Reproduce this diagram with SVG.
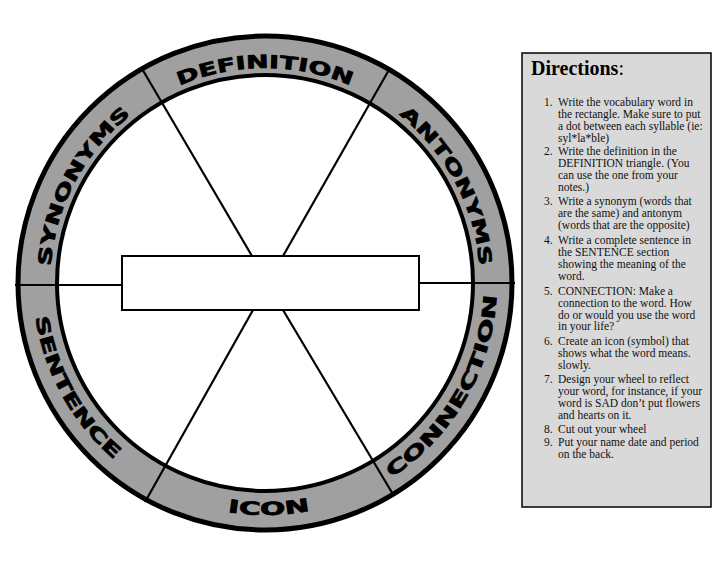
<svg xmlns="http://www.w3.org/2000/svg" width="728" height="563" viewBox="0 0 728 563">
<style>
.ring{fill:#a0a0a0;stroke:none}
.circ{fill:none;stroke:#000}
.spoke{stroke:#000;stroke-width:2.2;fill:none;stroke-linecap:butt}
.lbl{font-family:"DejaVu Sans",sans-serif;font-weight:bold;font-size:18px;fill:#000;stroke:#000;stroke-width:0.7}
.dir{font-family:"Liberation Serif","Times New Roman",serif;font-size:11.5px;fill:#111}
.head{font-family:"Liberation Serif","Times New Roman",serif;font-size:20px;fill:#000}
</style>
<defs>
<path id="pDef" d="M179.3,85.8 A215,215 0 0 1 350.7,85.8"/>
<path id="pSyn" d="M50.7,266.1 A215,215 0 0 1 131.2,114.7"/>
<path id="pAnt" d="M398.8,114.7 A215,215 0 0 1 479.3,266.1"/>
<path id="pSen" d="M35.5,317.3 A232,232 0 0 0 114.3,459.4"/>
<path id="pIcon" d="M227.5,512 A232,232 0 0 0 310.5,510.5"/>
<path id="pCon" d="M391.4,477.6 A232,232 0 0 0 496.7,295.1"/>
</defs>
<rect width="728" height="563" fill="#fff"/>
<g id="wheel">
<circle class="ring" cx="265" cy="283" r="247"/>
<circle cx="265" cy="283" r="208" fill="#fff"/>
</g>
<g id="connectors">
<line class="spoke" x1="252" y1="256" x2="141" y2="67"/>
<line class="spoke" x1="283" y1="256" x2="390" y2="68"/>
<line class="spoke" x1="253" y1="310" x2="145" y2="502"/>
<line class="spoke" x1="283" y1="310" x2="394" y2="496"/>
<line class="spoke" x1="15" y1="285" x2="122" y2="285"/>
<line class="spoke" x1="419" y1="283" x2="515" y2="283"/>
</g>
<g id="wheel-rims">
<circle class="circ" cx="265" cy="283" r="247" stroke-width="5"/>
<circle class="circ" cx="265" cy="283" r="208" stroke-width="4"/>
</g>
<g id="word-box">
<rect x="122" y="256" width="297" height="54" fill="#fff" stroke="#000" stroke-width="2"/>
</g>
<g id="definition"><text class="lbl"><textPath href="#pDef" textLength="176" lengthAdjust="spacingAndGlyphs">DEFINITION</textPath></text></g>
<g id="synonyms"><text class="lbl"><textPath href="#pSyn" textLength="176" lengthAdjust="spacingAndGlyphs">SYNONYMS</textPath></text></g>
<g id="antonyms"><text class="lbl"><textPath href="#pAnt" textLength="176" lengthAdjust="spacingAndGlyphs">ANTONYMS</textPath></text></g>
<g id="sentence"><text class="lbl"><textPath href="#pSen" textLength="166" lengthAdjust="spacingAndGlyphs">SENTENCE</textPath></text></g>
<g id="icon"><text class="lbl"><textPath href="#pIcon" textLength="83" lengthAdjust="spacingAndGlyphs">ICON</textPath></text></g>
<g id="connection"><text class="lbl"><textPath href="#pCon" textLength="218" lengthAdjust="spacingAndGlyphs">CONNECTION</textPath></text></g>
<g id="directions">
<rect x="522" y="53" width="189" height="454" fill="#d9d9d9" stroke="#000" stroke-width="1.5"/>
<text class="head" x="531" y="75"><tspan font-weight="bold">Directions</tspan>:</text>
<g class="dir">
<text x="544" y="105.5">1.</text>
<text x="558" y="105.5">Write the vocabulary word in</text>
<text x="558" y="117.5">the rectangle. Make sure to put</text>
<text x="558" y="129.5">a dot between each syllable (ie:</text>
<text x="558" y="141.5">syl*la*ble)</text>
<text x="544" y="155">2.</text>
<text x="558" y="155">Write the definition in the</text>
<text x="558" y="167">DEFINITION triangle. (You</text>
<text x="558" y="179">can use the one from your</text>
<text x="558" y="191">notes.)</text>
<text x="544" y="205">3.</text>
<text x="558" y="205">Write a synonym (words that</text>
<text x="558" y="217">are the same) and antonym</text>
<text x="558" y="229">(words that are the opposite)</text>
<text x="544" y="244">4.</text>
<text x="558" y="244">Write a complete sentence in</text>
<text x="558" y="256">the SENTENCE section</text>
<text x="558" y="268">showing the meaning of the</text>
<text x="558" y="280">word.</text>
<text x="544" y="295">5.</text>
<text x="558" y="295">CONNECTION:  Make a</text>
<text x="558" y="307">connection to the word. How</text>
<text x="558" y="318.5">do or would you use the word</text>
<text x="558" y="330">in your life?</text>
<text x="544" y="345">6.</text>
<text x="558" y="345">Create an icon (symbol) that</text>
<text x="558" y="357">shows what the word means.</text>
<text x="558" y="368.5">slowly.</text>
<text x="544" y="383">7.</text>
<text x="558" y="383">Design your wheel to reflect</text>
<text x="558" y="395">your word, for instance, if your</text>
<text x="558" y="407">word is SAD don’t put flowers</text>
<text x="558" y="418.5">and hearts on it.</text>
<text x="544" y="433">8.</text>
<text x="558" y="433">Cut out your wheel</text>
<text x="544" y="446">9.</text>
<text x="558" y="446">Put your name date and period</text>
<text x="558" y="457.5">on the back.</text>
</g>
</g>
</svg>
